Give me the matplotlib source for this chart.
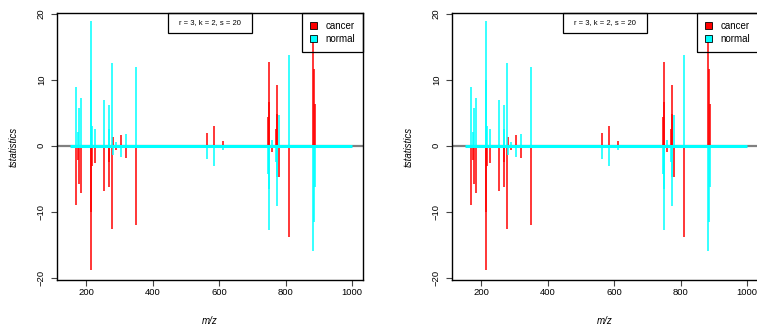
import matplotlib
matplotlib.use('Agg')
import matplotlib.pyplot as plt
from matplotlib.patches import Patch, Rectangle

# peak positions (m/z) and t statistics per class
mz = [168, 175, 179, 185, 213, 215, 218, 226, 253, 268, 270, 277, 280, 291,
      304, 319, 351, 564, 586, 612, 748, 749, 750, 760, 771, 773, 775, 781,
      809, 884, 885, 888]
cancer = [-8.9, -2.1, -5.8, -7.2, -18.9, -10.0, -3.0, -2.6, -6.9, -6.2, -2.5,
          -12.6, 1.4, -0.6, 1.7, -1.8, -12.0, 2.0, 3.0, 0.7, 4.3, 6.6, 12.7,
          -0.9, 2.5, 9.2, 4.8, -4.8, -13.8, 16.0, 11.6, 6.3]
normal = [8.9, 2.1, 5.8, 7.2, 18.9, 10.0, 3.0, 2.6, 6.9, 6.2, 2.5, 12.6,
          -1.4, 0.6, -1.7, 1.8, 12.0, -2.0, -3.0, -0.7, -4.3, -6.6, -12.7,
          0.9, -2.5, -9.2, -4.8, 4.7, 13.8, -16.0, -11.6, -6.3]
mz_range = [150, 1000]
xticks = [200, 400, 600, 800, 1000]
yticks = [-20, -10, 0, 10, 20]
params_label = 'r = 3, k = 2, s = 20'

plt.rcParams['font.family'] = ['Liberation Sans', 'DejaVu Sans']

W, H = 757, 328
fig = plt.figure(figsize=(W / 100, H / 100), dpi=100)

red = '#ff0000'
cyan = '#00ffff'


def draw_panel(left_px):
    ax = fig.add_axes([left_px / W, (H - 280) / H, 306 / W, 267 / H])
    ax.axhline(0, color='#808080', lw=1.6, zorder=1)
    ax.vlines(mz, 0, cancer, color=red, lw=1.1, zorder=2)
    ax.vlines(mz, 0, normal, color=cyan, lw=1.1, zorder=3)
    ax.plot(mz_range, [0, 0], color=cyan, lw=2.2, zorder=4,
            solid_capstyle='butt')

    ax.set_xlim(112, 1033)
    ax.set_ylim(-20.35, 20.15)
    ax.set_xticks(xticks)
    ax.set_yticks(yticks)
    ax.tick_params(axis='both', labelsize=6.8, length=4, width=0.8,
                   color='#444444')
    ax.tick_params(axis='x', pad=1.5)
    ax.tick_params(axis='y', pad=4)
    for lab in ax.get_yticklabels():
        lab.set_rotation(90)
        lab.set_va('center')
    for sp in ax.spines.values():
        sp.set_linewidth(1.0)
        sp.set_color('black')

    ax.set_xlabel('m/z', style='italic', fontsize=7)
    ax.set_ylabel('tstatistics', style='italic', fontsize=7)
    ax.xaxis.set_label_coords(0.5, -0.135)
    ax.yaxis.set_label_coords(-0.125, 0.5)

    # parameter box at top centre
    ax.add_patch(Rectangle((0.363, 0.925), 0.274, 0.075,
                           transform=ax.transAxes, fill=False,
                           ec='black', lw=0.9, zorder=5, clip_on=False))
    ax.text(0.5, 0.9625, params_label, transform=ax.transAxes,
            ha='center', va='center', fontsize=5.5, zorder=6)

    handles = [Patch(facecolor=red, edgecolor='black', lw=0.6, label='cancer'),
               Patch(facecolor=cyan, edgecolor='black', lw=0.6, label='normal')]
    leg = ax.legend(handles=handles, loc='upper right', fontsize=7,
                    frameon=True, fancybox=False,
                    edgecolor='black', borderaxespad=0, handlelength=0.7,
                    handleheight=0.7, handletextpad=0.9, borderpad=0.8,
                    labelspacing=0.35)
    frame = leg.get_frame()
    frame.set_facecolor('none')
    frame.set_alpha(None)
    frame.set_edgecolor('black')
    frame.set_linewidth(0.9)
    return ax


draw_panel(57)
draw_panel(452)

fig.savefig('out.png', dpi=100)
